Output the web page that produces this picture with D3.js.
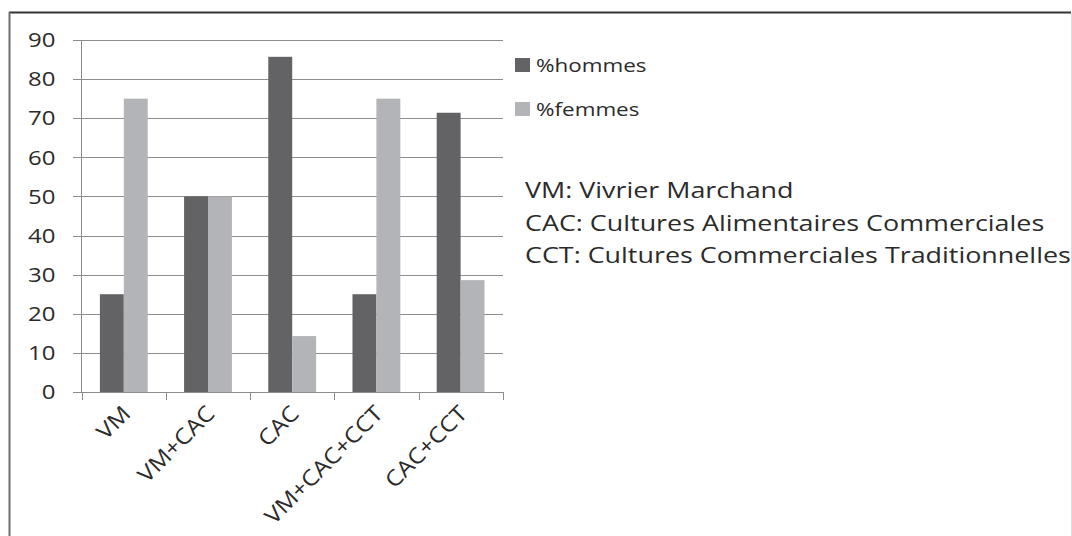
<!DOCTYPE html>
<html>
<head>
<meta charset="utf-8">
<script src="https://cdn.jsdelivr.net/npm/d3@7"></script>
<style>
  html, body { margin: 0; padding: 0; background: #fff; }
  text { font-family: "Open Sans", sans-serif; fill: #2b2b2b; }
</style>
</head>
<body>
<div id="viz"></div>
<script>
var categories = ["VM", "VM+CAC", "CAC", "VM+CAC+CCT", "CAC+CCT"];
var series = ["%hommes", "%femmes"];
var hommes = [25, 50, 85.7, 25, 71.4];
var femmes = [75, 50, 14.3, 75, 28.6];
var yTicks = [0, 10, 20, 30, 40, 50, 60, 70, 80, 90];
var notes = [
  "VM: Vivrier Marchand",
  "CAC: Cultures Alimentaires Commerciales",
  "CCT: Cultures Commerciales Traditionnelles"
];

var width = 1072,
    height = 536;

var colors = d3.scaleOrdinal().domain(series).range(["#636365", "#b3b4b8"]);

var svg = d3.select("#viz").append("svg")
  .attr("width", width)
  .attr("height", height);

// frame
svg.append("line").attr("x1", 9).attr("x2", 1071).attr("y1", 12.5).attr("y2", 12.5)
  .attr("stroke", "#333").attr("stroke-width", 2);
svg.append("line").attr("x1", 9.5).attr("x2", 9.5).attr("y1", 12).attr("y2", height)
  .attr("stroke", "#6e6e6e").attr("stroke-width", 2);
svg.append("line").attr("x1", 1071.5).attr("x2", 1071.5).attr("y1", 13).attr("y2", height)
  .attr("stroke", "#dcdcdc").attr("stroke-width", 1);

var y = d3.scaleLinear().domain([0, 90]).range([392, 40]);
var x = d3.scaleBand().domain(categories).range([81.7, 502.7]);
var x1 = d3.scaleBand().domain(series).range([0, x.bandwidth()]).paddingOuter(0.76);

// gridlines
svg.append("g").selectAll("line")
  .data(yTicks)
  .enter().append("line")
    .attr("x1", 73).attr("x2", 503)
    .attr("y1", function(d) { return Math.round(y(d)) + 0.5; })
    .attr("y2", function(d) { return Math.round(y(d)) + 0.5; })
    .attr("stroke", "#8d8d8d");

// y axis line
svg.append("line").attr("x1", 81.5).attr("x2", 81.5).attr("y1", y(90)).attr("y2", y(0))
  .attr("stroke", "#8d8d8d");

// y labels
svg.append("g").selectAll("text")
  .data(yTicks)
  .enter().append("text")
    .attr("text-anchor", "end")
    .attr("dy", "0.36em")
    .attr("font-size", 20)
    .attr("transform", function(d) { return "translate(55.5," + y(d) + ") scale(1.2,1)"; })
    .text(function(d) { return d; });

// bars
var group = svg.append("g").selectAll("g")
  .data(categories)
  .enter().append("g")
    .attr("transform", function(d) { return "translate(" + x(d) + ",0)"; });

group.selectAll("rect")
  .data(function(d, i) { return [{k: series[0], v: hommes[i]}, {k: series[1], v: femmes[i]}]; })
  .enter().append("rect")
    .attr("x", function(d) { return x1(d.k); })
    .attr("width", x1.bandwidth())
    .attr("y", function(d) { return y(d.v); })
    .attr("height", function(d) { return y(0) - y(d.v); })
    .attr("fill", function(d) { return colors(d.k); });

// x axis
svg.append("line").attr("x1", 73).attr("x2", 503).attr("y1", 392.5).attr("y2", 392.5)
  .attr("stroke", "#8d8d8d");
var edges = categories.map(function(c) { return x(c); }).concat([x.range()[1]]);
svg.append("g").selectAll("line")
  .data(edges)
  .enter().append("line")
    .attr("x1", function(d) { return Math.round(d) + 0.5; })
    .attr("x2", function(d) { return Math.round(d) + 0.5; })
    .attr("y1", 392).attr("y2", 400)
    .attr("stroke", "#8d8d8d");

svg.append("g").selectAll("text")
  .data(categories)
  .enter().append("text")
    .attr("text-anchor", "end")
    .attr("font-size", 22)
    .attr("transform", function(d) {
      return "translate(" + (x(d) + x.bandwidth() / 2 + 8) + ",415) rotate(-45) scale(1.12,1)";
    })
    .text(function(d) { return d; });

// legend
var legend = svg.append("g").selectAll("g")
  .data(series)
  .enter().append("g")
    .attr("transform", function(d, i) { return "translate(515," + (58 + i * 44) + ")"; });
legend.append("rect").attr("width", 15).attr("height", 14)
  .attr("fill", function(d) { return colors(d); });
legend.append("text")
  .attr("font-size", 19)
  .attr("transform", "translate(21,13.5) scale(1.18,1)")
  .text(function(d) { return d; });

// abbreviations
svg.append("g").selectAll("text")
  .data(notes)
  .enter().append("text")
    .attr("font-size", 21.5)
    .attr("transform", function(d, i) { return "translate(525," + (198 + i * 32.5) + ") scale(1.25,1)"; })
    .text(function(d) { return d; });
</script>
</body>
</html>
